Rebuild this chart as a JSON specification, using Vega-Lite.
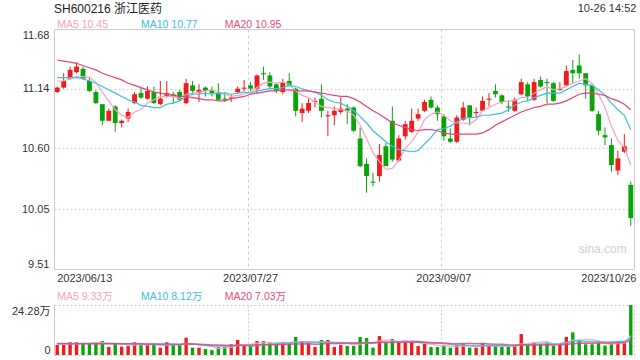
{
"$schema": "https://vega.github.io/schema/vega-lite/v6.json",
"background": "white",
"padding": {"left": 10, "top": 2, "right": 5, "bottom": 4},
"config": {
 "font": "Liberation Sans, Noto Sans CJK SC, sans-serif",
 "axis": {"labelFontSize": 11, "labelColor": "#333333"},
 "title": {"fontWeight": "normal"},
 "view": {"stroke": "#cccccc"}
},
"title": {"text": "10-26 14:52", "anchor": "end", "fontSize": 11, "color": "#333333", "dy": 15},
"datasets": {"k": [
{"d":"2023/06/13","o":11.11,"h":11.16,"l":11.10,"c":11.15,"m5":11.21,"m10":11.24,"m20":11.40,"v":4.86,"vm5":5.6,"vm10":5.6,"vm20":5.5},
{"d":"2023/06/14","o":11.15,"h":11.28,"l":11.14,"c":11.21,"m5":11.21,"m10":11.24,"m20":11.39,"v":4.86,"vm5":5.5,"vm10":5.6,"vm20":5.5},
{"d":"2023/06/15","o":11.23,"h":11.34,"l":11.22,"c":11.31,"m5":11.23,"m10":11.24,"m20":11.38,"v":6.15,"vm5":5.5,"vm10":5.6,"vm20":5.5},
{"d":"2023/06/16","o":11.29,"h":11.38,"l":11.28,"c":11.34,"m5":11.25,"m10":11.24,"m20":11.37,"v":6.15,"vm5":5.5,"vm10":5.6,"vm20":5.5},
{"d":"2023/06/19","o":11.32,"h":11.34,"l":11.22,"c":11.23,"m5":11.25,"m10":11.23,"m20":11.35,"v":5.9,"vm5":5.58,"vm10":5.6,"vm20":5.5},
{"d":"2023/06/20","o":11.21,"h":11.25,"l":11.11,"c":11.12,"m5":11.24,"m10":11.21,"m20":11.33,"v":5.5,"vm5":5.71,"vm10":5.6,"vm20":5.5},
{"d":"2023/06/21","o":11.11,"h":11.13,"l":11.00,"c":11.01,"m5":11.20,"m10":11.19,"m20":11.31,"v":6.15,"vm5":5.97,"vm10":5.6,"vm20":5.5},
{"d":"2023/06/26","o":11.00,"h":11.00,"l":10.81,"c":10.85,"m5":11.11,"m10":11.16,"m20":11.28,"v":6.8,"vm5":6.10,"vm10":5.6,"vm20":5.5},
{"d":"2023/06/27","o":10.85,"h":10.96,"l":10.85,"c":10.94,"m5":11.03,"m10":11.13,"m20":11.26,"v":3.9,"vm5":5.65,"vm10":5.6,"vm20":5.5},
{"d":"2023/06/28","o":10.98,"h":10.99,"l":10.75,"c":10.83,"m5":10.95,"m10":11.10,"m20":11.24,"v":5.5,"vm5":5.57,"vm10":5.58,"vm20":5.5},
{"d":"2023/06/29","o":10.83,"h":10.86,"l":10.79,"c":10.85,"m5":10.90,"m10":11.07,"m20":11.22,"v":4.05,"vm5":5.28,"vm10":5.50,"vm20":5.5},
{"d":"2023/06/30","o":10.87,"h":10.96,"l":10.84,"c":10.93,"m5":10.88,"m10":11.04,"m20":11.19,"v":4.5,"vm5":4.95,"vm10":5.46,"vm20":5.5},
{"d":"2023/07/03","o":11.01,"h":11.11,"l":11.00,"c":11.09,"m5":10.93,"m10":11.02,"m20":11.17,"v":6.15,"vm5":4.82,"vm10":5.46,"vm20":5.45},
{"d":"2023/07/04","o":11.10,"h":11.15,"l":11.05,"c":11.06,"m5":10.95,"m10":10.99,"m20":11.15,"v":5.2,"vm5":5.08,"vm10":5.37,"vm20":5.45},
{"d":"2023/07/05","o":11.05,"h":11.16,"l":11.04,"c":11.12,"m5":11.01,"m10":10.98,"m20":11.13,"v":4.86,"vm5":4.95,"vm10":5.26,"vm20":5.4},
{"d":"2023/07/06","o":11.11,"h":11.16,"l":11.00,"c":11.01,"m5":11.04,"m10":10.97,"m20":11.11,"v":5.2,"vm5":5.18,"vm10":5.23,"vm20":5.4},
{"d":"2023/07/07","o":11.00,"h":11.21,"l":10.99,"c":11.05,"m5":11.07,"m10":10.97,"m20":11.10,"v":3.56,"vm5":4.99,"vm10":4.97,"vm20":5.35},
{"d":"2023/07/10","o":11.07,"h":11.21,"l":11.06,"c":11.10,"m5":11.07,"m10":11.00,"m20":11.09,"v":6.15,"vm5":4.99,"vm10":4.91,"vm20":5.35},
{"d":"2023/07/11","o":11.09,"h":11.11,"l":11.00,"c":11.07,"m5":11.07,"m10":11.01,"m20":11.08,"v":4.86,"vm5":4.93,"vm10":5.00,"vm20":5.3},
{"d":"2023/07/12","o":11.11,"h":11.13,"l":11.03,"c":11.04,"m5":11.05,"m10":11.03,"m20":11.07,"v":4.86,"vm5":4.93,"vm10":4.94,"vm20":5.26},
{"d":"2023/07/13","o":11.01,"h":11.23,"l":11.00,"c":11.19,"m5":11.09,"m10":11.07,"m20":11.07,"v":8.4,"vm5":5.57,"vm10":5.37,"vm20":5.44},
{"d":"2023/07/14","o":11.17,"h":11.21,"l":11.09,"c":11.12,"m5":11.10,"m10":11.09,"m20":11.06,"v":3.56,"vm5":5.57,"vm10":5.28,"vm20":5.37},
{"d":"2023/07/17","o":11.10,"h":11.18,"l":11.02,"c":11.13,"m5":11.11,"m10":11.09,"m20":11.05,"v":3.56,"vm5":5.05,"vm10":5.02,"vm20":5.24},
{"d":"2023/07/18","o":11.15,"h":11.16,"l":11.07,"c":11.12,"m5":11.12,"m10":11.10,"m20":11.04,"v":2.9,"vm5":4.66,"vm10":4.79,"vm20":5.08},
{"d":"2023/07/19","o":11.13,"h":11.16,"l":11.07,"c":11.10,"m5":11.13,"m10":11.09,"m20":11.04,"v":2.4,"vm5":4.16,"vm10":4.55,"vm20":4.90},
{"d":"2023/07/20","o":11.11,"h":11.19,"l":11.03,"c":11.04,"m5":11.10,"m10":11.10,"m20":11.03,"v":4.05,"vm5":3.29,"vm10":4.43,"vm20":4.83},
{"d":"2023/07/21","o":11.05,"h":11.11,"l":11.02,"c":11.04,"m5":11.09,"m10":11.10,"m20":11.03,"v":4.05,"vm5":3.39,"vm10":4.48,"vm20":4.73},
{"d":"2023/07/24","o":11.05,"h":11.09,"l":11.02,"c":11.06,"m5":11.07,"m10":11.09,"m20":11.05,"v":5.2,"vm5":3.72,"vm10":4.38,"vm20":4.65},
{"d":"2023/07/25","o":11.11,"h":11.16,"l":11.10,"c":11.14,"m5":11.08,"m10":11.10,"m20":11.06,"v":7.3,"vm5":4.60,"vm10":4.63,"vm20":4.82},
{"d":"2023/07/26","o":11.14,"h":11.22,"l":11.12,"c":11.15,"m5":11.09,"m10":11.11,"m20":11.07,"v":4.86,"vm5":5.09,"vm10":4.63,"vm20":4.78},
{"d":"2023/07/27","o":11.17,"h":11.20,"l":11.12,"c":11.14,"m5":11.11,"m10":11.10,"m20":11.09,"v":4.5,"vm5":5.18,"vm10":4.24,"vm20":4.81},
{"d":"2023/07/28","o":11.14,"h":11.27,"l":11.10,"c":11.26,"m5":11.15,"m10":11.12,"m20":11.10,"v":6.8,"vm5":5.73,"vm10":4.56,"vm20":4.92},
{"d":"2023/07/31","o":11.28,"h":11.34,"l":11.22,"c":11.27,"m5":11.19,"m10":11.13,"m20":11.11,"v":6.8,"vm5":6.05,"vm10":4.89,"vm20":4.95},
{"d":"2023/08/01","o":11.26,"h":11.29,"l":11.14,"c":11.16,"m5":11.20,"m10":11.14,"m20":11.12,"v":6.15,"vm5":5.82,"vm10":5.21,"vm20":5.00},
{"d":"2023/08/02","o":11.18,"h":11.19,"l":11.10,"c":11.12,"m5":11.19,"m10":11.14,"m20":11.12,"v":5.2,"vm5":5.89,"vm10":5.49,"vm20":5.02},
{"d":"2023/08/03","o":11.11,"h":11.23,"l":11.09,"c":11.20,"m5":11.20,"m10":11.15,"m20":11.13,"v":6.0,"vm5":6.19,"vm10":5.69,"vm20":5.06},
{"d":"2023/08/04","o":11.21,"h":11.28,"l":11.16,"c":11.17,"m5":11.18,"m10":11.17,"m20":11.13,"v":5.7,"vm5":5.97,"vm10":5.85,"vm20":5.17},
{"d":"2023/08/07","o":11.14,"h":11.15,"l":10.89,"c":10.94,"m5":11.12,"m10":11.16,"m20":11.12,"v":8.74,"vm5":6.36,"vm10":6.21,"vm20":5.29},
{"d":"2023/08/08","o":10.92,"h":11.01,"l":10.84,"c":10.96,"m5":11.08,"m10":11.14,"m20":11.12,"v":6.8,"vm5":6.49,"vm10":6.16,"vm20":5.39},
{"d":"2023/08/09","o":10.94,"h":11.05,"l":10.92,"c":11.01,"m5":11.06,"m10":11.12,"m20":11.12,"v":5.7,"vm5":6.59,"vm10":6.24,"vm20":5.43},
{"d":"2023/08/10","o":11.02,"h":11.06,"l":10.97,"c":11.03,"m5":11.02,"m10":11.11,"m20":11.11,"v":3.9,"vm5":6.17,"vm10":6.18,"vm20":5.21},
{"d":"2023/08/11","o":11.05,"h":11.18,"l":10.88,"c":10.94,"m5":10.98,"m10":11.08,"m20":11.10,"v":7.3,"vm5":6.49,"vm10":6.23,"vm20":5.40},
{"d":"2023/08/14","o":10.89,"h":10.94,"l":10.71,"c":10.90,"m5":10.97,"m10":11.04,"m20":11.09,"v":7.3,"vm5":6.20,"vm10":6.28,"vm20":5.58},
{"d":"2023/08/15","o":10.90,"h":10.98,"l":10.81,"c":10.94,"m5":10.96,"m10":11.02,"m20":11.08,"v":3.9,"vm5":5.62,"vm10":6.05,"vm20":5.63},
{"d":"2023/08/16","o":10.93,"h":11.06,"l":10.91,"c":10.96,"m5":10.95,"m10":11.01,"m20":11.07,"v":4.86,"vm5":5.45,"vm10":6.02,"vm20":5.76},
{"d":"2023/08/17","o":10.96,"h":11.00,"l":10.82,"c":10.94,"m5":10.94,"m10":10.98,"m20":11.07,"v":4.4,"vm5":5.55,"vm10":5.86,"vm20":5.77},
{"d":"2023/08/18","o":10.97,"h":10.98,"l":10.75,"c":10.76,"m5":10.90,"m10":10.94,"m20":11.05,"v":4.4,"vm5":4.97,"vm10":5.73,"vm20":5.79},
{"d":"2023/08/21","o":10.69,"h":10.79,"l":10.43,"c":10.44,"m5":10.81,"m10":10.89,"m20":11.02,"v":8.74,"vm5":5.26,"vm10":5.73,"vm20":5.97},
{"d":"2023/08/22","o":10.46,"h":10.51,"l":10.20,"c":10.35,"m5":10.69,"m10":10.83,"m20":10.98,"v":8.25,"vm5":6.13,"vm10":5.88,"vm20":6.02},
{"d":"2023/08/23","o":10.30,"h":10.38,"l":10.26,"c":10.29,"m5":10.56,"m10":10.76,"m20":10.94,"v":3.56,"vm5":5.87,"vm10":5.66,"vm20":5.95},
{"d":"2023/08/24","o":10.35,"h":10.64,"l":10.30,"c":10.54,"m5":10.48,"m10":10.71,"m20":10.91,"v":9.2,"vm5":6.83,"vm10":6.19,"vm20":6.19},
{"d":"2023/08/25","o":10.62,"h":10.65,"l":10.44,"c":10.44,"m5":10.41,"m10":10.66,"m20":10.87,"v":6.15,"vm5":7.18,"vm10":6.08,"vm20":6.15},
{"d":"2023/08/28","o":10.85,"h":10.98,"l":10.48,"c":10.50,"m5":10.42,"m10":10.62,"m20":10.83,"v":7.8,"vm5":6.99,"vm10":6.13,"vm20":6.20},
{"d":"2023/08/29","o":10.49,"h":10.72,"l":10.48,"c":10.69,"m5":10.49,"m10":10.59,"m20":10.81,"v":6.15,"vm5":6.57,"vm10":6.35,"vm20":6.20},
{"d":"2023/08/30","o":10.71,"h":10.85,"l":10.68,"c":10.82,"m5":10.60,"m10":10.58,"m20":10.79,"v":6.15,"vm5":7.09,"vm10":6.48,"vm20":6.25},
{"d":"2023/08/31","o":10.75,"h":10.96,"l":10.74,"c":10.85,"m5":10.66,"m10":10.57,"m20":10.77,"v":6.15,"vm5":6.48,"vm10":6.66,"vm20":6.26},
{"d":"2023/09/01","o":10.87,"h":10.96,"l":10.85,"c":10.91,"m5":10.75,"m10":10.58,"m20":10.76,"v":4.4,"vm5":6.13,"vm10":6.66,"vm20":6.19},
{"d":"2023/09/04","o":10.94,"h":11.04,"l":10.93,"c":11.02,"m5":10.86,"m10":10.64,"m20":10.77,"v":5.5,"vm5":5.67,"vm10":6.33,"vm20":6.03},
{"d":"2023/09/05","o":11.04,"h":11.07,"l":10.96,"c":10.97,"m5":10.91,"m10":10.70,"m20":10.77,"v":3.9,"vm5":5.22,"vm10":5.90,"vm20":5.89},
{"d":"2023/09/06","o":10.97,"h":10.99,"l":10.85,"c":10.91,"m5":10.93,"m10":10.77,"m20":10.76,"v":3.9,"vm5":4.77,"vm10":5.93,"vm20":5.80},
{"d":"2023/09/07","o":10.89,"h":10.91,"l":10.67,"c":10.71,"m5":10.90,"m10":10.78,"m20":10.74,"v":4.5,"vm5":4.44,"vm10":5.46,"vm20":5.83},
{"d":"2023/09/08","o":10.69,"h":10.78,"l":10.65,"c":10.66,"m5":10.85,"m10":10.80,"m20":10.73,"v":3.56,"vm5":4.27,"vm10":5.20,"vm20":5.64},
{"d":"2023/09/11","o":10.66,"h":10.90,"l":10.65,"c":10.88,"m5":10.83,"m10":10.84,"m20":10.73,"v":4.86,"vm5":4.14,"vm10":4.91,"vm20":5.52},
{"d":"2023/09/12","o":10.86,"h":11.02,"l":10.85,"c":10.97,"m5":10.83,"m10":10.87,"m20":10.73,"v":5.5,"vm5":4.46,"vm10":4.84,"vm20":5.60},
{"d":"2023/09/13","o":10.99,"h":10.99,"l":10.81,"c":10.88,"m5":10.82,"m10":10.88,"m20":10.73,"v":3.56,"vm5":4.40,"vm10":4.58,"vm20":5.53},
{"d":"2023/09/14","o":10.92,"h":10.97,"l":10.88,"c":10.93,"m5":10.86,"m10":10.88,"m20":10.73,"v":3.56,"vm5":4.21,"vm10":4.32,"vm20":5.49},
{"d":"2023/09/15","o":10.94,"h":11.07,"l":10.94,"c":11.03,"m5":10.94,"m10":10.90,"m20":10.74,"v":5.7,"vm5":4.64,"vm10":4.45,"vm20":5.55},
{"d":"2023/09/18","o":11.04,"h":11.10,"l":10.98,"c":11.05,"m5":10.97,"m10":10.90,"m20":10.77,"v":4.86,"vm5":4.64,"vm10":4.39,"vm20":5.36},
{"d":"2023/09/19","o":11.12,"h":11.18,"l":11.06,"c":11.09,"m5":11.00,"m10":10.91,"m20":10.81,"v":4.4,"vm5":4.42,"vm10":4.44,"vm20":5.17},
{"d":"2023/09/20","o":11.08,"h":11.09,"l":11.00,"c":11.02,"m5":11.02,"m10":10.92,"m20":10.84,"v":3.9,"vm5":4.48,"vm10":4.44,"vm20":5.19},
{"d":"2023/09/21","o":10.98,"h":11.03,"l":10.93,"c":10.97,"m5":11.03,"m10":10.95,"m20":10.87,"v":3.9,"vm5":4.55,"vm10":4.38,"vm20":4.92},
{"d":"2023/09/22","o":10.94,"h":11.06,"l":10.93,"c":11.04,"m5":11.03,"m10":10.99,"m20":10.90,"v":4.5,"vm5":4.31,"vm10":4.47,"vm20":4.84},
{"d":"2023/09/25","o":11.09,"h":11.23,"l":11.08,"c":11.20,"m5":11.06,"m10":11.02,"m20":10.93,"v":10.2,"vm5":5.38,"vm10":5.01,"vm20":4.96},
{"d":"2023/09/26","o":11.18,"h":11.20,"l":11.03,"c":11.07,"m5":11.06,"m10":11.03,"m20":10.95,"v":4.86,"vm5":5.47,"vm10":4.94,"vm20":4.89},
{"d":"2023/09/27","o":11.04,"h":11.23,"l":11.03,"c":11.20,"m5":11.10,"m10":11.06,"m20":10.97,"v":6.15,"vm5":5.92,"vm10":5.20,"vm20":4.89},
{"d":"2023/09/28","o":11.22,"h":11.25,"l":11.15,"c":11.16,"m5":11.13,"m10":11.08,"m20":10.98,"v":5.2,"vm5":6.18,"vm10":5.37,"vm20":4.85},
{"d":"2023/10/09","o":11.20,"h":11.23,"l":11.01,"c":11.19,"m5":11.16,"m10":11.10,"m20":11.00,"v":6.15,"vm5":6.51,"vm10":5.41,"vm20":4.93},
{"d":"2023/10/10","o":11.19,"h":11.20,"l":11.02,"c":11.03,"m5":11.13,"m10":11.10,"m20":11.00,"v":4.4,"vm5":5.35,"vm10":5.37,"vm20":4.88},
{"d":"2023/10/11","o":11.13,"h":11.20,"l":11.12,"c":11.14,"m5":11.14,"m10":11.10,"m20":11.01,"v":5.3,"vm5":5.44,"vm10":5.46,"vm20":4.95},
{"d":"2023/10/12","o":11.17,"h":11.35,"l":11.16,"c":11.30,"m5":11.16,"m10":11.13,"m20":11.03,"v":8.74,"vm5":5.96,"vm10":5.94,"vm20":5.19},
{"d":"2023/10/13","o":11.31,"h":11.40,"l":11.19,"c":11.28,"m5":11.19,"m10":11.16,"m20":11.06,"v":11.0,"vm5":7.12,"vm10":6.65,"vm20":5.52},
{"d":"2023/10/16","o":11.35,"h":11.45,"l":11.23,"c":11.28,"m5":11.21,"m10":11.19,"m20":11.09,"v":7.1,"vm5":7.31,"vm10":6.91,"vm20":5.69},
{"d":"2023/10/17","o":11.28,"h":11.28,"l":11.05,"c":11.17,"m5":11.23,"m10":11.18,"m20":11.10,"v":5.2,"vm5":7.47,"vm10":6.41,"vm20":5.71},
{"d":"2023/10/18","o":11.17,"h":11.18,"l":10.93,"c":10.94,"m5":11.19,"m10":11.17,"m20":11.10,"v":5.2,"vm5":7.45,"vm10":6.44,"vm20":5.69},
{"d":"2023/10/19","o":10.91,"h":10.94,"l":10.72,"c":10.76,"m5":11.09,"m10":11.13,"m20":11.09,"v":6.0,"vm5":6.90,"vm10":6.43,"vm20":5.82},
{"d":"2023/10/20","o":10.72,"h":10.79,"l":10.63,"c":10.70,"m5":10.97,"m10":11.08,"m20":11.08,"v":4.6,"vm5":5.62,"vm10":6.37,"vm20":5.87},
{"d":"2023/10/23","o":10.63,"h":10.69,"l":10.39,"c":10.45,"m5":10.80,"m10":11.01,"m20":11.05,"v":5.5,"vm5":5.30,"vm10":6.30,"vm20":5.86},
{"d":"2023/10/24","o":10.40,"h":10.58,"l":10.36,"c":10.51,"m5":10.67,"m10":10.95,"m20":11.03,"v":6.4,"vm5":5.54,"vm10":6.50,"vm20":5.94},
{"d":"2023/10/25","o":10.57,"h":10.73,"l":10.56,"c":10.62,"m5":10.61,"m10":10.90,"m20":11.00,"v":5.9,"vm5":5.68,"vm10":6.56,"vm20":6.01},
{"d":"2023/10/26","o":10.27,"h":10.30,"l":9.90,"c":9.97,"m5":10.45,"m10":10.77,"m20":10.95,"v":24.28,"vm5":9.34,"vm10":8.12,"vm20":7.03}
]},
"data": {"name": "k"},
"spacing": 6,
"resolve": {"scale": {"color": "independent"}},
"vconcat": [
 {
  "width": 580, "height": 240,
  "title": {"text": "SH600216 浙江医药", "anchor": "start", "frame": "group", "fontSize": 12, "color": "#222222", "offset": 3},
  "resolve": {"axis": {"x": "independent"}},
  "layer": [
   {
    "mark": {"type": "rule", "strokeWidth": 1},
    "encoding": {
     "x": {"field": "d", "type": "ordinal", "title": null, "scale": {"paddingInner": 0.25, "paddingOuter": 0.125},
      "axis": {"values": ["2023/06/13", "2023/07/27", "2023/09/07", "2023/10/26"], "bandPosition": 0, "labelAngle": 0, "labelOverlap": false,
       "labelAlign": {"condition": [{"test": "datum.value == '2023/06/13'", "value": "left"}, {"test": "datum.value == '2023/10/26'", "value": "right"}], "value": "center"},
       "labelOffset": {"condition": {"test": "datum.value == '2023/10/26'", "value": 5.6}, "value": 0},
       "grid": true, "gridColor": "#cfcfcf", "gridDash": [3, 3],
       "gridOpacity": {"condition": {"test": "datum.value == '2023/06/13' || datum.value == '2023/10/26'", "value": 0}, "value": 1},
       "domain": false, "ticks": false, "labelPadding": 3}},
     "y": {"field": "l", "type": "quantitative", "title": null, "scale": {"domain": [9.51, 11.68], "nice": false, "zero": false},
      "axis": {"values": [9.51, 10.05, 10.6, 11.14, 11.68], "format": ".2f", "labelFlush": true, "grid": true, "gridColor": "#dadada", "gridDash": [2, 2], "gridWidth": 1.5,
       "gridOpacity": {"condition": {"test": "datum.value < 9.6 || datum.value > 11.6", "value": 0}, "value": 1},
       "domain": false, "ticks": false, "labelPadding": 5}},
     "y2": {"field": "h"},
     "color": {"condition": {"test": "datum.c >= datum.o", "value": "#f01c1c"}, "value": "#0aa30a"}
    }
   },
   {
    "mark": {"type": "bar"},
    "encoding": {
     "x": {"field": "d", "type": "ordinal", "title": null, "axis": null},
     "y": {"field": "o", "type": "quantitative", "title": null},
     "y2": {"field": "c"},
     "color": {"condition": {"test": "datum.c >= datum.o", "value": "#f01c1c"}, "value": "#0aa30a"}
    }
   },
   {
    "transform": [{"fold": ["m5", "m10", "m20"], "as": ["key", "val"]}],
    "mark": {"type": "line", "strokeWidth": 1.2},
    "encoding": {
     "x": {"field": "d", "type": "ordinal", "title": null,
      "axis": {"orient": "top", "values": ["2023/06/13", "2023/07/04", "2023/07/21"], "bandPosition": 0, "labelAlign": "left", "labelAngle": 0,
       "labelOverlap": false, "labelFontSize": 10.5, "grid": false, "domain": false, "ticks": false, "labelPadding": 0,
       "labelExpr": "datum.value == '2023/06/13' ? 'MA5 10.45' : datum.value == '2023/07/04' ? 'MA10 10.77' : 'MA20 10.95'",
       "labelColor": {"condition": [{"test": "datum.value == '2023/06/13'", "value": "#f5a3c0"}, {"test": "datum.value == '2023/07/04'", "value": "#3cc0de"}], "value": "#ea4a82"}}},
     "y": {"field": "val", "type": "quantitative", "title": null},
     "color": {"field": "key", "type": "nominal", "legend": null,
      "scale": {"domain": ["m5", "m10", "m20"], "range": ["#f5a3c0", "#3cc0de", "#e6437c"]}}
    }
   },
   {
    "data": {"values": [{"w": "sina.com"}]},
    "mark": {"type": "text", "align": "right", "baseline": "middle", "fontSize": 12, "color": "#d0d0d0", "dx": -4},
    "encoding": {
     "x": {"datum": "2023/10/26", "type": "ordinal", "axis": null},
     "y": {"datum": 9.69, "type": "quantitative"},
     "text": {"field": "w"}
    }
   }
  ]
 },
 {
  "width": 580, "height": 50,
  "view": {"stroke": "#cccccc", "strokeDash": [2, 2]},
  "resolve": {"axis": {"x": "independent"}},
  "layer": [
   {
    "mark": {"type": "bar", "width": {"band": 0.7}},
    "encoding": {
     "x": {"field": "d", "type": "ordinal", "title": null, "scale": {"paddingInner": 0.25, "paddingOuter": 0.125},
      "axis": {"values": ["2023/07/27", "2023/09/07"], "bandPosition": 0, "labels": false, "grid": true, "gridColor": "#cfcfcf", "gridDash": [2, 2], "domain": false, "ticks": false}},
     "y": {"field": "v", "type": "quantitative", "title": null, "scale": {"domain": [0, 24.28], "nice": false},
      "axis": {"values": [0, 24.28], "labelExpr": "datum.value == 0 ? '0' : '24.28万'", "labelFlush": true, "grid": false, "domain": true, "domainColor": "#cccccc", "ticks": false, "labelPadding": 4}},
     "color": {"condition": {"test": "datum.c >= datum.o", "value": "#f01c1c"}, "value": "#0aa30a"}
    }
   },
   {
    "transform": [{"fold": ["vm5", "vm10", "vm20"], "as": ["key", "val"]}],
    "mark": {"type": "line", "strokeWidth": 1.5, "opacity": 0.85},
    "encoding": {
     "x": {"field": "d", "type": "ordinal", "title": null,
      "axis": {"orient": "top", "values": ["2023/06/13", "2023/07/04", "2023/07/21"], "bandPosition": 0, "labelAlign": "left", "labelAngle": 0,
       "labelOverlap": false, "labelFontSize": 10.5, "grid": false, "domain": false, "ticks": false, "labelPadding": 4,
       "labelExpr": "datum.value == '2023/06/13' ? 'MA5 9.33万' : datum.value == '2023/07/04' ? 'MA10 8.12万' : 'MA20 7.03万'",
       "labelColor": {"condition": [{"test": "datum.value == '2023/06/13'", "value": "#f5a3c0"}, {"test": "datum.value == '2023/07/04'", "value": "#3cc0de"}], "value": "#ea4a82"}}},
     "y": {"field": "val", "type": "quantitative", "title": null},
     "color": {"field": "key", "type": "nominal", "legend": null,
      "scale": {"domain": ["vm5", "vm10", "vm20"], "range": ["#f5a3c0", "#3cc0de", "#e6437c"]}}
    }
   }
  ]
 }
]
}
